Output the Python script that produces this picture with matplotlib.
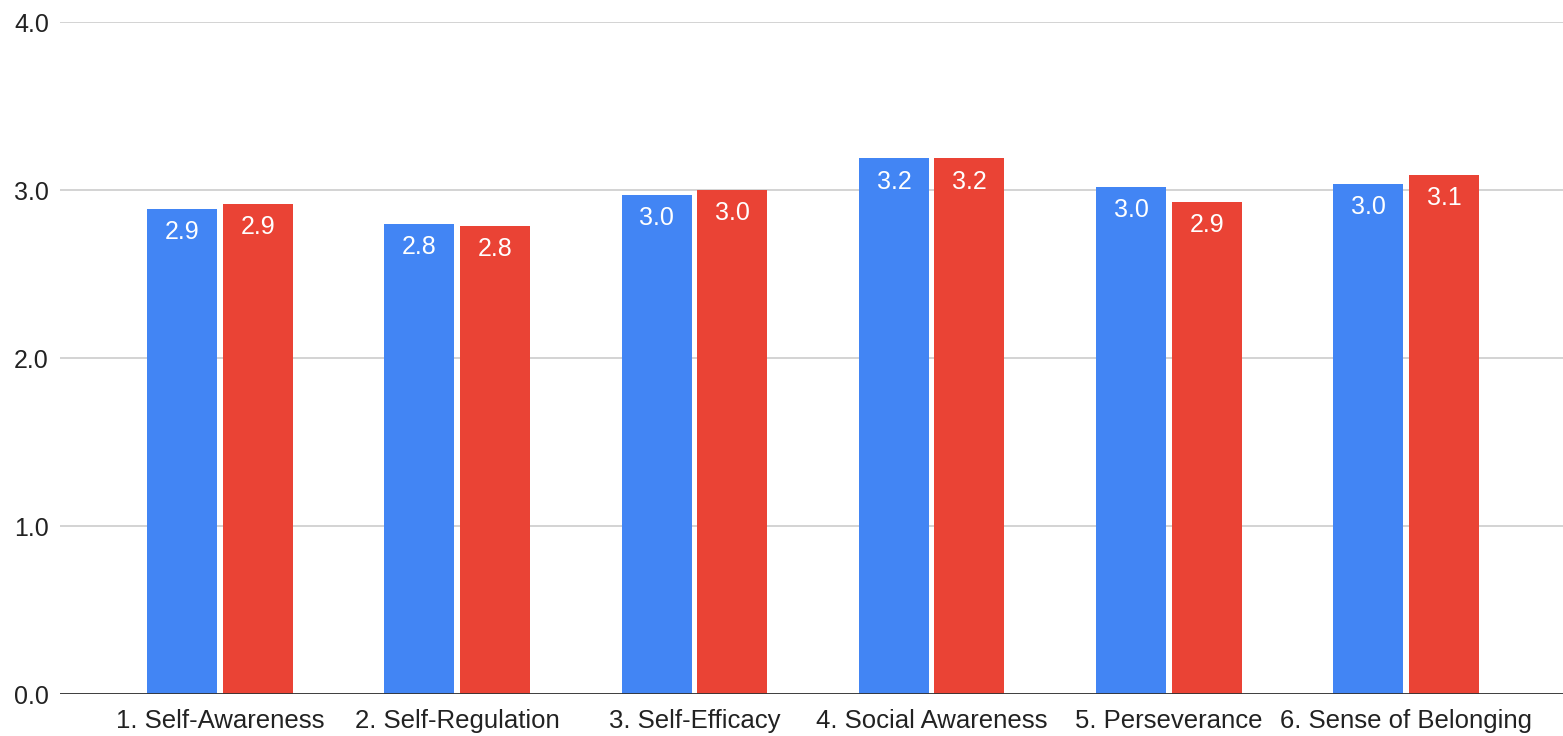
import numpy as np
import matplotlib.pyplot as plt

plt.rcParams['font.family'] = ['Liberation Sans', 'DejaVu Sans']

# data
categories = ["1. Self-Awareness", "2. Self-Regulation", "3. Self-Efficacy",
              "4. Social Awareness", "5. Perseverance", "6. Sense of Belonging"]
series_a = [2.89, 2.80, 2.97, 3.19, 3.02, 3.04]
series_b = [2.92, 2.79, 3.00, 3.19, 2.93, 3.09]
y_ticks = [0.0, 1.0, 2.0, 3.0, 4.0]

BLUE = '#4285F4'
RED = '#EA4335'

fig = plt.figure(figsize=(15.63, 7.36), dpi=100)
ax = fig.add_axes([0.0384, 0.0570, 0.9616, 0.9125])

x = np.arange(len(categories))
w = 0.295
off = 0.159

bars_a = ax.bar(x - off, series_a, width=w, color=BLUE, zorder=3)
bars_b = ax.bar(x + off, series_b, width=w, color=RED, zorder=3)

for bars, vals in ((bars_a, series_a), (bars_b, series_b)):
    for b, v in zip(bars, vals):
        ax.annotate(f"{v:.1f}", (b.get_x() + b.get_width() / 2, v),
                    xytext=(0, -8), textcoords='offset points',
                    ha='center', va='top', color='white', fontsize=18, zorder=4)

ax.set_ylim(0, 4.0)
ax.set_xlim(-0.674, 5.661)
ax.set_yticks(y_ticks)
ax.set_yticklabels([f"{t:.1f}" for t in y_ticks])
ax.set_xticks(x)
ax.set_xticklabels(categories)

ax.grid(axis='y', color='#cccccc', linewidth=1.2, zorder=0)
ax.axhline(0, color='#333333', linewidth=1.3, zorder=4)

for s in ax.spines.values():
    s.set_visible(False)
ax.tick_params(axis='both', length=0, labelsize=18, colors='#222222')
ax.tick_params(axis='x', labelsize=18.5)
ax.tick_params(axis='y', pad=8)
ax.tick_params(axis='x', pad=11)

fig.savefig('out.png', dpi=100)
